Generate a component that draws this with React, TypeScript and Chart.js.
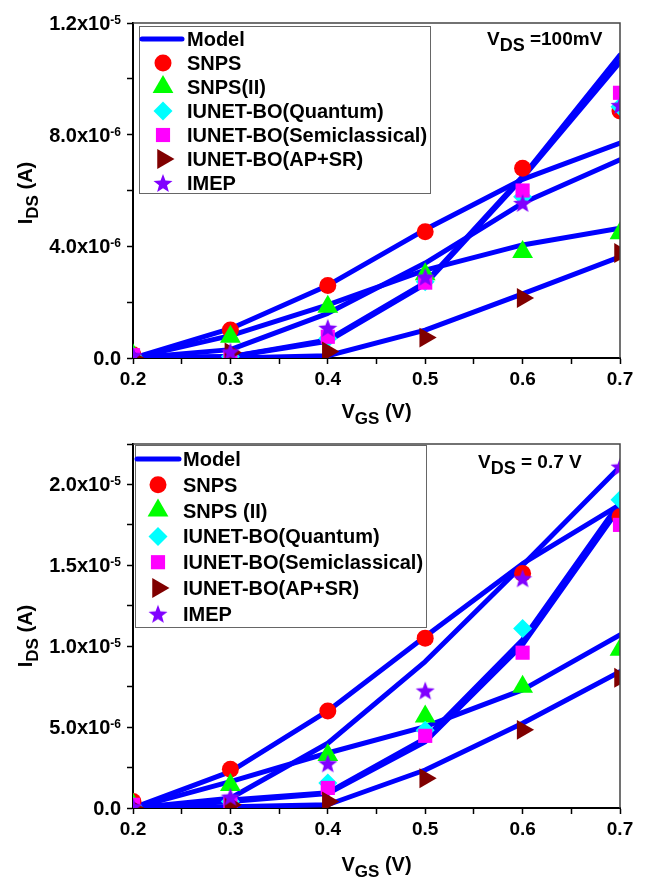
import React, { useEffect, useRef } from 'react';
import { Chart, registerables } from 'chart.js';

Chart.register(...registerables);

const FONT = '"Liberation Sans", Arial, Helvetica, sans-serif';

// ---------- data (IDS in units of 1e-6 A) ----------
const vgs = [0.2, 0.3, 0.4, 0.5, 0.6, 0.7];
const xTickLabels = ['0.2', '0.3', '0.4', '0.5', '0.6', '0.7'];

const topNames = ['SNPS', 'SNPS(II)', 'IUNET-BO(Quantum)', 'IUNET-BO(Semiclassical)', 'IUNET-BO(AP+SR)', 'IMEP'];
const bottomNames = ['SNPS', 'SNPS (II)', 'IUNET-BO(Quantum)', 'IUNET-BO(Semiclassical)', 'IUNET-BO(AP+SR)', 'IMEP'];
const modelName = 'Model';

// Top panel: VDS = 100 mV
const topSnps = [0.12, 1.0, 2.6, 4.52, 6.8, 8.85];
const topSnps2 = [0.1, 0.76, 1.84, 3.0, 3.8, 4.47];
const topQuantum = [0.05, 0.05, 0.7, 2.73, 5.78, 9.0];
const topSemi = [0.1, 0.05, 0.76, 2.7, 6.0, 9.5];
const topApsr = [0.0, 0.2, 0.23, 0.73, 2.15, 3.76];
const topImep = [0.1, 0.23, 1.08, 2.91, 5.55, 9.06];

const topModelSnps = [0, 1.05, 2.6, 4.6, 6.4, 7.7];
const topModelSnps2 = [0, 0.8, 1.9, 3.15, 4.05, 4.65];
const topModelQuantum = [0, 0.05, 0.6, 2.65, 6.45, 10.6];
const topModelSemi = [0, 0.05, 0.65, 2.7, 6.5, 10.85];
const topModelApsr = [0, 0, 0.08, 1.0, 2.3, 3.62];
const topModelImep = [0, 0.3, 1.6, 3.4, 5.55, 7.1];

const topYTickValues = [0, 4, 8, 12];
const topYTickBase = ['0.0', '4.0x10', '8.0x10', '1.2x10'];
const topYTickExp = ['', '-6', '-6', '-5'];

// Bottom panel: VDS = 0.7 V
const botSnps = [0.4, 2.39, 6.0, 10.5, 14.5, 18.0];
const botSnps2 = [0.2, 1.42, 3.28, 5.65, 7.5, 9.78];
const botQuantum = [0.1, 0.4, 1.55, 4.8, 11.1, 19.06];
const botSemi = [0.2, 0.25, 1.24, 4.46, 9.6, 17.5];
const botApsr = [0.0, 0.2, 0.4, 1.84, 4.83, 8.05];
const botImep = [0.1, 0.7, 2.76, 7.26, 14.2, 21.1];

const botModelSnps = [0, 2.25, 6.0, 10.6, 15.1, 18.75];
const botModelSnps2 = [0, 1.63, 3.4, 5.03, 7.3, 10.7];
const botModelQuantum = [0, 0.5, 0.95, 4.3, 10.4, 18.9];
const botModelSemi = [0, 0.4, 0.9, 4.1, 10.1, 18.6];
const botModelApsr = [0, 0.08, 0.2, 2.35, 5.24, 8.43];
const botModelImep = [0, 0.6, 4.0, 9.05, 15.0, 21.1];

const botYTickValues = [0, 5, 10, 15, 20];
const botYTickBase = ['0.0', '5.0x10', '1.0x10', '1.5x10', '2.0x10'];
const botYTickExp = ['', '-6', '-5', '-5', '-5'];

// ---------- styles ----------
const seriesColors = ['#ff0000', '#00ff00', '#00ffff', '#ff00ff', '#800000', '#8000ff'];
const markerStyles = [
  { style: 'circle', radius: 8.5, rotation: 0 },
  { style: 'triangle', radius: 12, rotation: 0 },
  { style: 'rectRot', radius: 9.5, rotation: 0 },
  { style: 'rect', radius: 10, rotation: 0 },
  { style: 'triangle', radius: 11.5, rotation: 90 },
  { style: 'star', radius: 10, rotation: 0 },
];
const MODEL_COLOR = '#0000ff';

type Part = { text: string; size: number; dy: number };

type PanelCfg = {
  height: number;
  padTop: number;
  xAxisHeight: number;
  yMax: number;
  yStep: number;
  names: string[];
  markers: number[][];
  models: number[][];
  yTickValues: number[];
  yTickBase: string[];
  yTickExp: string[];
  annot: { parts: Part[]; x: number; y: number };
  legend: { x: number; y: number; w: number; h: number; row0: number; step: number; markerX: number; textX: number; lineX0: number; lineX1: number };
  yTitleCY: number;
  xTitleY: number;
};

function starPath(ctx: CanvasRenderingContext2D, cx: number, cy: number, R: number, r: number) {
  ctx.beginPath();
  for (let i = 0; i < 10; i++) {
    const a = -Math.PI / 2 + (i * Math.PI) / 5;
    const rad = i % 2 === 0 ? R : r;
    const px = cx + rad * Math.cos(a);
    const py = cy + rad * Math.sin(a);
    if (i === 0) ctx.moveTo(px, py);
    else ctx.lineTo(px, py);
  }
  ctx.closePath();
}

function makeStar(color: string, size: number): HTMLCanvasElement {
  const c = document.createElement('canvas');
  c.width = size;
  c.height = size;
  const ctx = c.getContext('2d')!;
  starPath(ctx, size / 2, size / 2 + 1, size / 2, (size / 2) * 0.42);
  ctx.fillStyle = color;
  ctx.fill();
  return c;
}

function legendMarker(ctx: CanvasRenderingContext2D, i: number, x: number, y: number, star: HTMLCanvasElement) {
  const m = markerStyles[i];
  const r = m.radius;
  ctx.save();
  ctx.fillStyle = seriesColors[i];
  ctx.beginPath();
  if (m.style === 'circle') {
    ctx.arc(x, y, r, 0, Math.PI * 2);
  } else if (m.style === 'triangle' && m.rotation === 0) {
    ctx.moveTo(x, y - r);
    ctx.lineTo(x + 0.866 * r, y + 0.5 * r);
    ctx.lineTo(x - 0.866 * r, y + 0.5 * r);
    ctx.closePath();
  } else if (m.style === 'triangle') {
    ctx.moveTo(x + r, y);
    ctx.lineTo(x - 0.5 * r, y + 0.866 * r);
    ctx.lineTo(x - 0.5 * r, y - 0.866 * r);
    ctx.closePath();
  } else if (m.style === 'rectRot') {
    ctx.moveTo(x, y - r);
    ctx.lineTo(x + r, y);
    ctx.lineTo(x, y + r);
    ctx.lineTo(x - r, y);
    ctx.closePath();
  } else if (m.style === 'rect') {
    const s = r * Math.SQRT1_2;
    ctx.rect(x - s, y - s, 2 * s, 2 * s);
  } else {
    ctx.drawImage(star, x - star.width / 2, y - star.height / 2);
    ctx.restore();
    return;
  }
  ctx.fill();
  ctx.restore();
}

function richWidth(ctx: CanvasRenderingContext2D, parts: Part[]) {
  let w = 0;
  for (const p of parts) {
    ctx.font = `bold ${p.size}px ${FONT}`;
    w += ctx.measureText(p.text).width;
  }
  return w;
}

function drawRich(ctx: CanvasRenderingContext2D, parts: Part[], x: number, y: number) {
  let cx = x;
  ctx.textAlign = 'left';
  ctx.textBaseline = 'alphabetic';
  for (const p of parts) {
    ctx.font = `bold ${p.size}px ${FONT}`;
    ctx.fillText(p.text, cx, y + p.dy);
    cx += ctx.measureText(p.text).width;
  }
}

function makeDecor(cfg: PanelCfg, star: HTMLCanvasElement) {
  return {
    id: 'decor',
    afterDraw(chart: any) {
      const ctx: CanvasRenderingContext2D = chart.ctx;
      const area = chart.chartArea;
      const ys = chart.scales.y;
      ctx.save();
      ctx.fillStyle = '#000';

      // top and right frame
      ctx.strokeStyle = '#444';
      ctx.lineWidth = 1.5;
      ctx.beginPath();
      ctx.moveTo(area.left, area.top);
      ctx.lineTo(area.right, area.top);
      ctx.lineTo(area.right, area.bottom);
      ctx.stroke();

      // y tick labels with superscripts
      const right = 121;
      cfg.yTickValues.forEach((v, i) => {
        const py = ys.getPixelForValue(v);
        const exp = cfg.yTickExp[i];
        ctx.font = `bold 12px ${FONT}`;
        const ew = exp ? ctx.measureText(exp).width : 0;
        ctx.font = `bold 20px ${FONT}`;
        ctx.textAlign = 'right';
        ctx.textBaseline = 'alphabetic';
        ctx.fillText(cfg.yTickBase[i], right - ew, py + 7);
        if (exp) {
          ctx.font = `bold 12px ${FONT}`;
          ctx.textAlign = 'left';
          ctx.fillText(exp, right - ew, py + 1);
        }
      });

      // y title (rotated)
      const yParts: Part[] = [
        { text: 'I', size: 20, dy: 0 },
        { text: 'DS', size: 17, dy: 6 },
        { text: ' (A)', size: 20, dy: 0 },
      ];
      const yw = richWidth(ctx, yParts);
      ctx.save();
      ctx.translate(32, cfg.yTitleCY);
      ctx.rotate(-Math.PI / 2);
      drawRich(ctx, yParts, -yw / 2, 0);
      ctx.restore();

      // x title
      const xParts: Part[] = [
        { text: 'V', size: 20, dy: 0 },
        { text: 'GS', size: 17, dy: 6 },
        { text: ' (V)', size: 20, dy: 0 },
      ];
      const xw = richWidth(ctx, xParts);
      drawRich(ctx, xParts, (area.left + area.right) / 2 - xw / 2, cfg.xTitleY);

      // annotation
      drawRich(ctx, cfg.annot.parts, cfg.annot.x, cfg.annot.y);

      // legend
      const L = cfg.legend;
      ctx.fillStyle = '#fff';
      ctx.fillRect(L.x, L.y, L.w, L.h);
      ctx.strokeStyle = '#666';
      ctx.lineWidth = 1;
      ctx.strokeRect(L.x + 0.5, L.y + 0.5, L.w, L.h);
      ctx.fillStyle = '#000';
      // model line
      ctx.strokeStyle = MODEL_COLOR;
      ctx.lineWidth = 5;
      ctx.lineCap = 'round';
      ctx.beginPath();
      ctx.moveTo(L.lineX0, L.row0);
      ctx.lineTo(L.lineX1, L.row0);
      ctx.stroke();
      ctx.font = `bold 20px ${FONT}`;
      ctx.textAlign = 'left';
      ctx.textBaseline = 'alphabetic';
      ctx.fillText(modelName, L.textX, L.row0 + 7);
      cfg.names.forEach((name, i) => {
        const ry = L.row0 + (i + 1) * L.step;
        legendMarker(ctx, i, L.markerX, ry, star);
        ctx.fillStyle = '#000';
        ctx.font = `bold 20px ${FONT}`;
        ctx.textAlign = 'left';
        ctx.textBaseline = 'alphabetic';
        ctx.fillText(name, L.textX, ry + 7);
      });
      ctx.restore();
    },
  };
}

function buildConfig(cfg: PanelCfg, star: HTMLCanvasElement): any {
  const datasets: any[] = [];
  for (let i = cfg.markers.length - 1; i >= 0; i--) {
    const m = markerStyles[i];
    datasets.push({
      label: cfg.names[i],
      data: vgs.map((x, j) => ({ x, y: cfg.markers[i][j] })),
      showLine: false,
      pointStyle: m.style === 'star' ? star : m.style,
      pointRadius: m.radius,
      pointRotation: m.rotation,
      pointBackgroundColor: seriesColors[i],
      pointBorderColor: seriesColors[i],
      backgroundColor: seriesColors[i],
      borderColor: seriesColors[i],
      pointBorderWidth: 0,
      clip: 0,
    });
  }
  cfg.models.forEach((arr) => {
    datasets.push({
      label: modelName,
      data: vgs.map((x, j) => ({ x, y: arr[j] })),
      showLine: true,
      pointRadius: 0,
      borderColor: MODEL_COLOR,
      backgroundColor: MODEL_COLOR,
      borderWidth: 5,
      borderJoinStyle: 'round',
      borderCapStyle: 'round',
      fill: false,
      clip: 0,
    });
  });

  return {
    type: 'scatter',
    data: { datasets },
    options: {
      responsive: false,
      animation: false,
      events: [],
      layout: { padding: { left: 0, right: 26, top: cfg.padTop, bottom: 0 } },
      plugins: { legend: { display: false }, tooltip: { enabled: false } },
      scales: {
        x: {
          type: 'linear',
          position: 'bottom',
          min: 0.2,
          max: 0.7,
          afterFit: (s: any) => {
            s.height = cfg.xAxisHeight;
          },
          ticks: {
            stepSize: 0.05,
            autoSkip: false,
            maxRotation: 0,
            color: '#000',
            padding: 4,
            font: { family: FONT, size: 19, weight: 'bold' },
            callback: (v: number) => {
              const k = Math.round(v * 100);
              return k % 10 === 0 ? xTickLabels[(k - 20) / 10] : '';
            },
          },
          grid: { drawOnChartArea: false, drawTicks: true, tickLength: 6, tickColor: '#000', tickWidth: 1.5 },
          border: { display: true, color: '#000', width: 2 },
        },
        y: {
          type: 'linear',
          position: 'left',
          min: 0,
          max: cfg.yMax,
          afterFit: (s: any) => {
            s.width = 133;
          },
          ticks: { display: false, stepSize: cfg.yStep },
          grid: { drawOnChartArea: false, drawTicks: true, tickLength: 6, tickColor: '#000', tickWidth: 1.5 },
          border: { display: true, color: '#000', width: 2 },
        },
      },
    },
    plugins: [makeDecor(cfg, star)],
  };
}

const topCfg: PanelCfg = {
  height: 430,
  padTop: 23,
  xAxisHeight: 72,
  yMax: 12,
  yStep: 2,
  names: topNames,
  markers: [topSnps, topSnps2, topQuantum, topSemi, topApsr, topImep],
  models: [topModelSnps, topModelSnps2, topModelQuantum, topModelSemi, topModelApsr, topModelImep],
  yTickValues: topYTickValues,
  yTickBase: topYTickBase,
  yTickExp: topYTickExp,
  annot: {
    parts: [
      { text: 'V', size: 19, dy: 0 },
      { text: 'DS', size: 18, dy: 6 },
      { text: ' =100mV', size: 19, dy: 0 },
    ],
    x: 487,
    y: 45,
  },
  legend: { x: 139, y: 26, w: 291, h: 167, row0: 39, step: 24, markerX: 163, textX: 187, lineX0: 142, lineX1: 182 },
  yTitleCY: 193,
  xTitleY: 418,
};

const bottomCfg: PanelCfg = {
  height: 448,
  padTop: 14,
  xAxisHeight: 70,
  yMax: 22.5,
  yStep: 2.5,
  names: bottomNames,
  markers: [botSnps, botSnps2, botQuantum, botSemi, botApsr, botImep],
  models: [botModelSnps, botModelSnps2, botModelQuantum, botModelSemi, botModelApsr, botModelImep],
  yTickValues: botYTickValues,
  yTickBase: botYTickBase,
  yTickExp: botYTickExp,
  annot: {
    parts: [
      { text: 'V', size: 19, dy: 0 },
      { text: 'DS', size: 18, dy: 6 },
      { text: ' = 0.7 V', size: 19, dy: 0 },
    ],
    x: 478,
    y: 38,
  },
  legend: { x: 135, y: 15, w: 291, h: 182, row0: 29, step: 25.8, markerX: 158, textX: 183, lineX0: 137, lineX1: 179 },
  yTitleCY: 206,
  xTitleY: 441,
};

function Panel({ cfg }: { cfg: PanelCfg }) {
  const ref = useRef<HTMLCanvasElement>(null);
  useEffect(() => {
    const star = makeStar('#8000ff', 20);
    const chart = new Chart(ref.current as HTMLCanvasElement, buildConfig(cfg, star));
    return () => chart.destroy();
  }, [cfg]);
  return <canvas ref={ref} width={646} height={cfg.height} style={{ display: 'block', width: 646, height: cfg.height }} />;
}

export default function App() {
  return (
    <div style={{ position: 'absolute', left: 0, top: 0, width: 646, height: 878, background: '#fff' }}>
      <Panel cfg={topCfg} />
      <Panel cfg={bottomCfg} />
    </div>
  );
}
